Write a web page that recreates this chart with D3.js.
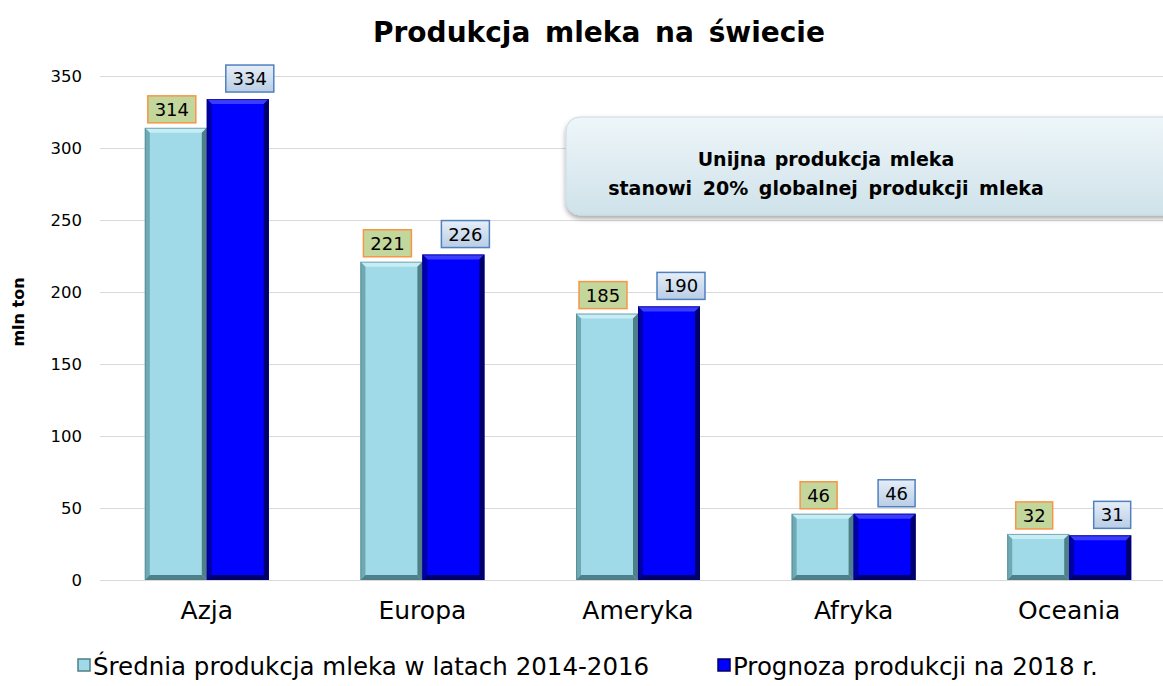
<!DOCTYPE html>
<html>
<head>
<meta charset="utf-8">
<script src="https://cdn.jsdelivr.net/npm/d3@7"></script>
<style>
  html, body { margin: 0; padding: 0; background: #fff; }
  svg { display: block; font-family: "DejaVu Sans", Verdana, sans-serif; }
</style>
</head>
<body>
<svg id="chart" width="1163" height="686"></svg>
<script>
// Milk production by continent (mln ton)
const categories = ["Azja", "Europa", "Ameryka", "Afryka", "Oceania"];
const seriesNames = ["Średnia produkcja mleka w latach 2014-2016", "Prognoza produkcji na 2018 r."];
const avg2014_2016 = [314, 221, 185, 46, 32];
const forecast2018 = [334, 226, 190, 46, 31];
const yTicks = [0, 50, 100, 150, 200, 250, 300, 350];
const titleText = "Produkcja mleka na świecie";
const yAxisLabel = "mln ton";
const noteLines = ["Unijna produkcja mleka", "stanowi 20% globalnej produkcji mleka"];

const seriesValues = [avg2014_2016, forecast2018];
const rows = categories.map((c, i) => ({
  category: c,
  values: seriesValues.map((vals, s) => ({ series: s, value: vals[i] }))
}));

const svg = d3.select("#chart");
const defs = svg.append("defs");

// Palettes per series: face, light edge, dark edge
const styles = [
  { face: "#a0dae8", top: "#c6ecf4", side: "#6fa9b4", bottom: "#4f7f88", labelFill: "#c3d69b", labelStroke: "#f79646" },
  { face: "#0000ff", top: "#3c3cff", side: "#0000a8", bottom: "#00006a", labelFill: "url(#labelBlue)", labelStroke: "#4f81bd" }
];

const lg = defs.append("linearGradient").attr("id", "labelBlue").attr("x1", 0).attr("y1", 0).attr("x2", 0).attr("y2", 1);
lg.append("stop").attr("offset", "0%").attr("stop-color", "#e6eef8");
lg.append("stop").attr("offset", "100%").attr("stop-color", "#b9cde5");

const ng = defs.append("linearGradient").attr("id", "noteFill").attr("x1", 0).attr("y1", 0).attr("x2", 0).attr("y2", 1);
ng.append("stop").attr("offset", "0%").attr("stop-color", "#eef6f9");
ng.append("stop").attr("offset", "100%").attr("stop-color", "#cfe2ea");

const shadow = defs.append("filter").attr("id", "noteShadow").attr("x", "-10%").attr("y", "-10%").attr("width", "120%").attr("height", "130%");
shadow.append("feDropShadow").attr("dx", 0).attr("dy", 3).attr("stdDeviation", 2.5).attr("flood-color", "#000").attr("flood-opacity", 0.35);

// Scales
const y = d3.scaleLinear().domain([0, 350]).range([580, 76]);
const x0 = d3.scaleBand().domain(categories).range([99, 1177]).paddingInner(0.425).paddingOuter(0.2125);
const x1 = d3.scaleBand().domain([0, 1]).range([0, x0.bandwidth()]).padding(0);

// Gridlines
svg.append("g").selectAll("line").data(yTicks).join("line")
  .attr("x1", 100).attr("x2", 1163)
  .attr("y1", d => Math.round(y(d)) + 0.5).attr("y2", d => Math.round(y(d)) + 0.5)
  .attr("stroke", "#d9d9d9").attr("stroke-width", 1.2);

// Y axis tick labels
const yAxis = d3.axisLeft(y).tickValues(yTicks).tickSize(0).tickPadding(0);
const yg = svg.append("g").attr("transform", "translate(82,0)").call(yAxis);
yg.select(".domain").remove();
yg.selectAll("text").attr("font-family", "DejaVu Sans, Verdana, sans-serif")
  .attr("font-size", 16.5).attr("fill", "#000").attr("dy", "0.35em");

// Y axis title
svg.append("text").attr("transform", "translate(24,312) rotate(-90)")
  .attr("text-anchor", "middle").attr("font-weight", "bold").attr("font-size", 16)
  .text(yAxisLabel);

// Title
svg.append("text").attr("x", 599).attr("y", 42).attr("text-anchor", "middle")
  .attr("font-weight", "bold").attr("font-size", 28).attr("word-spacing", 5)
  .text(titleText);

// Bars with bevelled edges
const bev = 5;
const groups = svg.append("g").selectAll("g").data(rows).join("g")
  .attr("transform", d => `translate(${x0(d.category)},0)`);

const bars = groups.selectAll("g.bar").data(d => d.values).join("g").attr("class", "bar");

bars.each(function(d) {
  const g = d3.select(this);
  const st = styles[d.series];
  const xL = x1(d.series), w = x1.bandwidth();
  const yT = y(d.value), yB = y(0);
  const xR = xL + w;
  const b = Math.min(bev, (yB - yT) / 2);
  g.append("rect").attr("x", xL).attr("y", yT).attr("width", w).attr("height", yB - yT).attr("fill", st.face);
  // top edge
  g.append("polygon").attr("points", [[xL, yT], [xR, yT], [xR - b, yT + b], [xL + b, yT + b]].join(" ")).attr("fill", st.top);
  // left edge
  g.append("polygon").attr("points", [[xL, yT], [xL + b, yT + b], [xL + b, yB - b], [xL, yB]].join(" ")).attr("fill", st.side);
  // right edge
  g.append("polygon").attr("points", [[xR, yT], [xR - b, yT + b], [xR - b, yB - b], [xR, yB]].join(" ")).attr("fill", st.bottom);
  // bottom edge
  g.append("polygon").attr("points", [[xL, yB], [xL + b, yB - b], [xR - b, yB - b], [xR, yB]].join(" ")).attr("fill", st.bottom);
  g.append("rect").attr("x", xL + 0.5).attr("y", yT + 0.5).attr("width", w - 1).attr("height", yB - yT - 1)
    .attr("fill", "none").attr("stroke", st.bottom).attr("stroke-opacity", 0.6);
});

// Value labels in boxes
const labelOffset = [-4, 12];
bars.each(function(d) {
  const g = d3.select(this);
  const st = styles[d.series];
  const cx = x1(d.series) + x1.bandwidth() / 2 + labelOffset[d.series];
  const txt = String(d.value);
  const bw = txt.length >= 3 ? 48 : 37, bh = 27;
  const bottom = y(d.value) - (d.series === 0 ? 5 : 7);
  g.append("rect").attr("x", cx - bw / 2).attr("y", bottom - bh).attr("width", bw).attr("height", bh)
    .attr("fill", st.labelFill).attr("stroke", st.labelStroke).attr("stroke-width", 1.5);
  g.append("text").attr("x", cx).attr("y", bottom - bh / 2).attr("dy", "0.36em")
    .attr("text-anchor", "middle").attr("font-size", 18).attr("fill", "#000").text(txt);
});

// Category labels
const xAxis = d3.axisBottom(x0).tickSize(0).tickPadding(0);
const xg = svg.append("g").attr("transform", "translate(0,601)").call(xAxis);
xg.select(".domain").remove();
xg.selectAll("text").attr("font-family", "DejaVu Sans, Verdana, sans-serif")
  .attr("font-size", 25).attr("fill", "#000").attr("dy", "0.71em");

// Annotation box
const note = svg.append("g");
note.append("rect").attr("x", 566).attr("y", 117).attr("width", 640).attr("height", 98).attr("rx", 14)
  .attr("fill", "url(#noteFill)").attr("stroke", "#c8dbe3").attr("filter", "url(#noteShadow)");
note.selectAll("text").data(noteLines).join("text")
  .attr("x", 826).attr("y", (d, i) => 166 + i * 29).attr("text-anchor", "middle")
  .attr("font-weight", "bold").attr("font-size", 19).attr("word-spacing", [2, 4])
  .attr("word-spacing", (d, i) => [2, 4][i])
  .text(d => d);

// Legend
const legendX = [78, 718];
const legend = svg.append("g").selectAll("g").data(seriesNames).join("g")
  .attr("transform", (d, i) => `translate(${legendX[i]},666)`);
legend.append("rect").attr("x", 0).attr("y", -7).attr("width", 12).attr("height", 12)
  .attr("fill", (d, i) => styles[i].face).attr("stroke", (d, i) => styles[i].bottom).attr("stroke-width", 1.5);
legend.append("text").attr("x", 15).attr("y", 0).attr("dy", "0.36em")
  .attr("font-size", 24.5).attr("fill", "#000")
  .text(d => d);
</script>
</body>
</html>
